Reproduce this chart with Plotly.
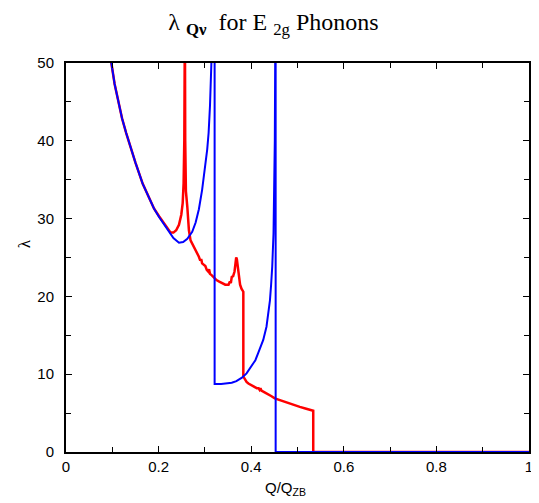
import plotly.graph_objects as go

# lambda_Qv for the two E2g branches
q_red = [0.090, 0.098, 0.105, 0.113, 0.121, 0.130, 0.140, 0.150, 0.1655, 0.180,
         0.190, 0.201, 0.212, 0.220, 0.226, 0.232, 0.238, 0.244, 0.249, 0.252,
         0.254, 0.2555, 0.2562, 0.2568, 0.2575, 0.259, 0.262, 0.2655, 0.269, 0.280,
         0.287, 0.290, 0.292, 0.294, 0.297, 0.301, 0.304, 0.307, 0.309, 0.311,
         0.315, 0.319, 0.325, 0.331, 0.337, 0.344, 0.351, 0.354, 0.356, 0.358,
         0.361, 0.364, 0.366, 0.3676, 0.369, 0.3705, 0.3726, 0.374, 0.376, 0.379,
         0.383, 0.383, 0.386, 0.390, 0.394, 0.400, 0.406, 0.412, 0.416, 0.418,
         0.420, 0.422, 0.428, 0.435, 0.443, 0.451, 0.460, 0.470, 0.482, 0.494,
         0.505, 0.517, 0.5296, 0.534, 0.534, 1.0]
lam_red = [55.0, 50.0, 47.3, 45.0, 42.9, 41.0, 39.0, 37.2, 34.5, 32.5,
           31.3, 30.3, 29.4, 28.7, 28.2, 28.2, 28.5, 29.2, 30.5, 32.0,
           34.5, 40.0, 56.0, 56.0, 40.0, 33.5, 31.5, 28.5, 27.2, 26.0,
           25.1, 24.6, 24.8, 24.25, 24.1, 23.9, 23.4, 23.2, 23.5, 22.9,
           22.7, 22.4, 22.1, 21.9, 21.7, 21.5, 21.5, 21.9, 21.7, 22.5,
           22.6, 23.2, 24.2, 25.0, 24.8, 24.0, 23.4, 22.6, 21.5, 21.0,
           20.6, 9.7, 9.3, 9.0, 8.8, 8.6, 8.4, 8.2, 8.2, 8.0,
           8.2, 7.9, 7.7, 7.5, 7.2, 6.9, 6.7, 6.5, 6.25, 6.0,
           5.8, 5.6, 5.4, 5.3, 0.0, 0.0]

q_blue = [0.090, 0.098, 0.105, 0.113, 0.121, 0.130, 0.140, 0.150, 0.1655, 0.180,
          0.190, 0.201, 0.212, 0.222, 0.232, 0.244, 0.253, 0.262, 0.2726, 0.280,
          0.287, 0.294, 0.300, 0.305, 0.308, 0.311, 0.314, 0.316, 0.321, 0.321,
          0.335, 0.351, 0.358, 0.368, 0.380, 0.390, 0.401, 0.409, 0.415, 0.421,
          0.426, 0.433, 0.437, 0.4405, 0.443, 0.4454, 0.4482, 0.4497, 0.4510, 0.4518,
          0.4522, 0.4528, 0.4528, 1.0]
lam_blue = [55.0, 50.0, 47.3, 45.0, 42.9, 41.0, 39.0, 37.2, 34.5, 32.5,
            31.3, 30.2, 29.2, 28.3, 27.5, 26.9, 27.0, 27.4, 28.3, 29.5,
            31.2, 33.7, 36.3, 38.9, 41.0, 44.5, 50.0, 56.0, 56.0, 8.75,
            8.75, 8.8, 8.9, 9.1, 9.55, 10.1, 11.0, 11.8, 12.7, 13.5,
            14.4, 16.1, 17.6, 19.5, 21.5, 23.8, 28.1, 32.4, 40.0, 50.0,
            56.0, 56.0, 0.0, 0.0]

fig = go.Figure()
fig.add_trace(go.Scatter(x=q_red, y=lam_red, mode='lines',
                         line=dict(color='#ff0000', width=2.5)))
fig.add_trace(go.Scatter(x=q_blue, y=lam_blue, mode='lines',
                         line=dict(color='#0000ff', width=2)))

axis_style = dict(showline=True, linewidth=2, linecolor='black', mirror='ticks',
                  ticks='inside', ticklen=6, tickwidth=1.2, tickcolor='black',
                  showgrid=False, zeroline=False,
                  tickfont=dict(family='Liberation Sans', size=15, color='black'))

fig.update_xaxes(range=[0, 1], dtick=0.2, ticklabelstandoff=0,
                 minor=dict(dtick=0.1, ticks='inside', ticklen=5, tickcolor='black'),
                 **axis_style)
fig.update_yaxes(range=[0, 50], dtick=10, ticklabelstandoff=7,
                 minor=dict(dtick=5, ticks='inside', ticklen=5, tickcolor='black'),
                 **axis_style)

# axis titles placed by hand, as in the original
fig.add_annotation(text='Q/Q<sub>ZB</sub>', xref='paper', yref='paper',
                   x=0.475, y=-0.095, xanchor='center', yanchor='middle',
                   showarrow=False,
                   font=dict(family='Liberation Sans', size=15, color='black'))
fig.add_annotation(text='λ', xref='paper', yref='paper', textangle=-90,
                   x=-0.088, y=0.535, xanchor='center', yanchor='middle',
                   showarrow=False,
                   font=dict(family='Liberation Serif', size=17, color='black'))

# page body keeps its 8px margin, so the figure is 8px smaller and shifted
fig.update_layout(
    width=531, height=495,
    margin=dict(l=58, r=6, t=55, b=51),
    plot_bgcolor='white', paper_bgcolor='white',
    showlegend=False,
    title=dict(text='λ <sub><b>Qν</b></sub>  for E <sub>2g</sub> Phonons',
               x=0.5, xanchor='center', y=0.972, yanchor='middle',
               font=dict(family='Liberation Serif', size=24, color='black')),
)

fig.write_html("out.html")
